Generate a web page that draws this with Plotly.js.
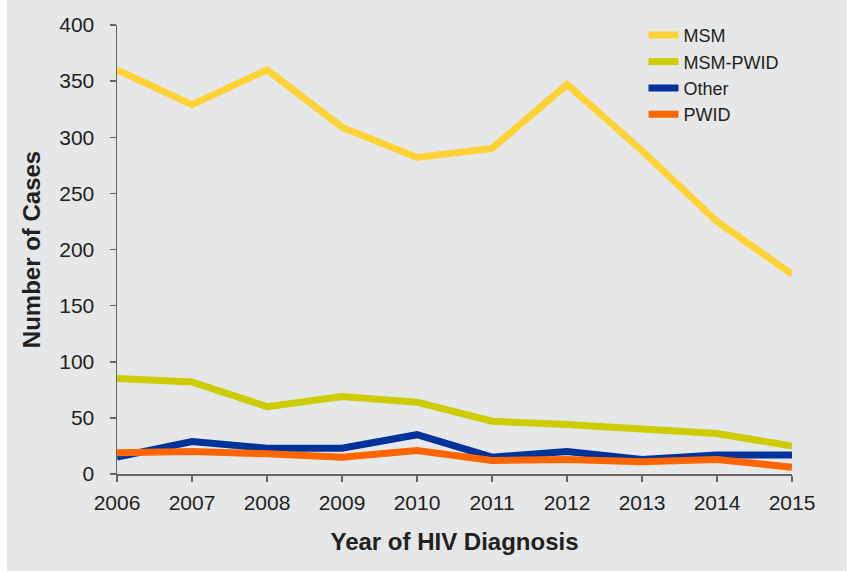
<!DOCTYPE html>
<html>
<head>
<meta charset="utf-8">
<script src="https://cdn.plot.ly/plotly-3.0.1.min.js"></script>
<style>
html,body{margin:0;padding:0;background:#ffffff;}
#chart{position:absolute;left:7px;top:0;width:840px;height:571px;}
</style>
</head>
<body>
<div id="chart"></div>
<script>
const years = [2006, 2007, 2008, 2009, 2010, 2011, 2012, 2013, 2014, 2015];
const msm = [360, 329, 360, 309, 282, 290, 347, 288, 225, 178];
const msmPwid = [85, 82, 60, 69, 64, 47, 44, 40, 36, 25];
const other = [15, 29, 23, 23, 35, 15, 20, 13, 17, 17];
const pwid = [19, 20, 18, 15, 21, 12, 13, 11, 13, 6];
const seriesNames = ["MSM", "MSM-PWID", "Other", "PWID"];
const seriesColors = ["#FFD335", "#CCCC00", "#003399", "#FF6600"];
const seriesData = [msm, msmPwid, other, pwid];

const traces = seriesData.map((ys, i) => ({
  x: years, y: ys, name: seriesNames[i], type: "scatter", mode: "lines",
  line: {color: seriesColors[i], width: 7}
}));

const layout = {
  width: 840, height: 571,
  paper_bgcolor: "#E6E7E9", plot_bgcolor: "#E6E7E9",
  margin: {l: 110, r: 55, t: 25, b: 97},
  font: {family: "Liberation Sans, Arial, sans-serif", color: "#231F20", size: 21},
  showlegend: true,
  legend: {x: 0.78, y: 1.018, xanchor: "left", yanchor: "top", bgcolor: "rgba(0,0,0,0)",
    font: {size: 18, color: "#231F20"}, tracegroupgap: 0, itemwidth: 30},
  xaxis: {
    range: [2006, 2015], tickmode: "array", tickvals: years, ticktext: years.map(String),
    showgrid: false, zeroline: false, showline: true, linecolor: "#666666", linewidth: 1.5,
    ticks: "outside", ticklen: 6, tickcolor: "#666666", tickwidth: 1.5,
    tickfont: {size: 21}, ticklabelstandoff: 3,
    title: {text: "<b>Year of HIV Diagnosis</b>", font: {size: 24}, standoff: 20}
  },
  yaxis: {
    range: [0, 400], tickmode: "array", tickvals: [0,50,100,150,200,250,300,350,400],
    showgrid: false, zeroline: false, showline: true, linecolor: "#666666", linewidth: 1.5,
    ticks: "outside", ticklen: 6, tickcolor: "#666666", tickwidth: 1.5,
    tickfont: {size: 21}, ticklabelstandoff: 11,
    title: {text: "<b>Number of Cases</b>", font: {size: 24}, standoff: 12}
  }
};

Plotly.newPlot("chart", traces, layout, {displayModeBar: false, staticPlot: true});
</script>
</body>
</html>
